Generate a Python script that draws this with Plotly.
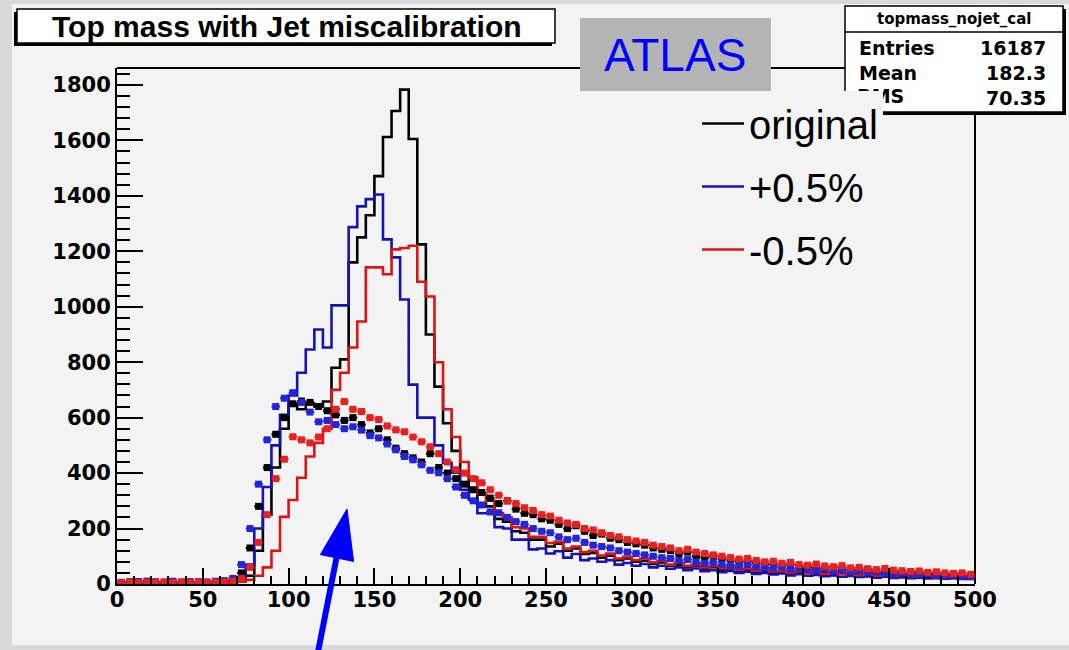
import numpy as np
import plotly.graph_objects as go

# 5 GeV bins from 0 to 500
bin_edges = np.arange(0, 505, 5)
bin_centers = bin_edges[:-1] + 2.5

# step histograms (correct jet combination)
step_original = [2, 3, 2, 4, 3, 2, 5, 3, 4, 3, 2, 5, 6, 8,
                 12, 30, 120, 250, 420, 560, 650, 630, 650, 640,
                 658, 780, 810, 1160, 1250, 1330, 1471, 1612, 1706, 1783,
                 1605, 1225, 900, 712, 580, 480,
                 400, 345, 290, 280, 235, 225, 190, 185, 160, 160,
                 135, 145, 120, 128, 108, 112, 95, 102, 86, 92,
                 80, 84, 72, 78, 66, 70, 60, 66, 55, 61,
                 50, 56, 46, 52, 43, 48, 40, 45, 38, 42,
                 40, 35, 39, 33, 37, 31, 35, 29, 33, 28,
                 31, 27, 30, 25, 29, 24, 27, 22, 26, 21]
step_plus = [3, 2, 4, 2, 3, 5, 2, 4, 3, 5, 4, 6, 8, 10,
             25, 70, 200, 350, 500, 610, 680, 762, 846, 918,
             853, 1005, 1005, 1287, 1362, 1388, 1405, 1243, 1178, 1026,
             719, 600, 600, 500, 437, 401,
             340, 305, 255, 255, 205, 200, 160, 160, 125, 128,
             110, 118, 95, 108, 86, 92, 80, 86, 70, 76,
             66, 72, 60, 66, 55, 60, 50, 56, 46, 50,
             43, 47, 40, 44, 36, 40, 34, 38, 31, 35,
             30, 33, 28, 31, 26, 29, 25, 27, 23, 26,
             22, 24, 21, 23, 20, 21, 19, 21, 18, 19]
step_minus = [2, 3, 2, 2, 4, 3, 2, 3, 4, 2, 3, 4, 5, 5,
              8, 15, 30, 60, 120, 242, 303, 383, 460, 509,
              560, 700, 762, 853, 947, 1142, 1142, 1117, 1207, 1212,
              1220, 1090, 1037, 800, 630, 530,
              440, 385, 325, 300, 255, 240, 205, 200, 170, 170,
              148, 152, 128, 135, 115, 120, 103, 110, 92, 98,
              86, 92, 78, 84, 70, 76, 66, 70, 60, 65,
              56, 60, 52, 56, 48, 52, 45, 48, 42, 46,
              40, 43, 37, 41, 35, 38, 33, 36, 31, 34,
              29, 32, 28, 30, 26, 29, 25, 27, 24, 26]

# point histograms (all combinations)
pts_original = [5, 8, 6, 10, 7, 5, 9, 6, 8, 7, 6, 9, 10, 15,
                40, 130, 280, 420, 540, 600, 650, 660, 655, 640,
                625, 610, 590, 600, 575, 545, 560, 520, 490, 470,
                455, 440, 470, 420, 400, 380, 360, 340, 330, 310,
                290, 300, 270, 255, 250, 235, 230, 215, 200, 210,
                190, 175, 180, 165, 160, 150, 145, 140, 130, 125,
                120, 110, 115, 100, 95, 100, 90, 85, 80, 82,
                75, 70, 72, 65, 70, 60, 62, 58, 55, 60,
                52, 50, 48, 52, 45, 42, 45, 40, 38, 42,
                35, 36, 33, 38, 30, 28]
pts_plus = [6, 5, 9, 7, 8, 6, 10, 7, 9, 8, 7, 10, 12, 20,
            70, 200, 360, 520, 640, 670, 690, 655, 620, 585,
            590, 575, 560, 567, 555, 535, 527, 505, 484, 460,
            448, 430, 410, 401, 380, 350, 320, 300, 285, 260,
            257, 240, 225, 215, 200, 190, 185, 170, 160, 165,
            150, 140, 135, 130, 120, 115, 110, 105, 100, 95,
            92, 85, 88, 80, 75, 78, 70, 68, 65, 70,
            62, 60, 58, 62, 55, 58, 52, 50, 55, 48,
            50, 45, 47, 42, 44, 40, 38, 40, 36, 34,
            37, 32, 30, 33, 28, 26]
pts_minus = [4, 6, 5, 7, 6, 8, 5, 7, 6, 8, 6, 7, 8, 10,
             20, 60, 150, 250, 380, 450, 531, 520, 509, 530,
             560, 630, 658, 630, 622, 600, 593, 570, 556, 549,
             530, 513, 495, 470, 440, 412, 400, 380, 365, 340,
             320, 300, 290, 275, 265, 250, 245, 230, 220, 215,
             200, 195, 185, 175, 170, 160, 155, 150, 140, 135,
             130, 120, 125, 115, 110, 105, 100, 95, 90, 92,
             85, 80, 82, 75, 78, 70, 68, 72, 65, 62,
             66, 58, 60, 55, 52, 56, 50, 48, 45, 47,
             42, 44, 40, 38, 40, 35]

legend_names = ["original", "+0.5%", "-0.5%"]
step_colors = ["#000000", "#1414b4", "#dc1414"]
pt_colors = ["#000000", "#2424d8", "#e82020"]

stats_title = "topmass_nojet_cal"
stats_labels = ["Entries", "Mean", "RMS"]
stats_values = ["16187", "182.3", "70.35"]

W, H = 1069, 650
L, R, T, B = 117, 975, 68, 584
X_MAX, Y_MAX = 500, 1861
CANVAS = "#f3f3f3"
BORDER = "#d9d9d9"


def px(x):
    return (x - L) / (R - L)


def py(y):
    return (B - y) / (B - T)


def rect(x0, y0, x1, y1, fill, line_color=None, line_width=0, layer="below"):
    return dict(type="rect", xref="paper", yref="paper",
                x0=px(x0), x1=px(x1), y0=py(y1), y1=py(y0),
                fillcolor=fill, layer=layer,
                line=dict(color=line_color or fill, width=line_width))


def hline(x0, x1, y, width=2, color="black", layer="below"):
    return dict(type="line", xref="paper", yref="paper",
                x0=px(x0), x1=px(x1), y0=py(y), y1=py(y),
                line=dict(color=color, width=width), layer=layer)


def vline(x, y0, y1, width=2, color="black", layer="below"):
    return dict(type="line", xref="paper", yref="paper",
                x0=px(x), x1=px(x), y0=py(y0), y1=py(y1),
                line=dict(color=color, width=width), layer=layer)


fig = go.Figure()

edges = list(bin_edges)
for name, vals, col in zip(legend_names, [step_original, step_plus, step_minus], step_colors):
    fig.add_trace(go.Scatter(
        x=edges, y=list(vals) + [vals[-1]], mode="lines", line_shape="hv",
        line=dict(color=col, width=2.6), name=name, legendgroup=name,
        hoverinfo="skip"))

for vals, col in zip([pts_original, pts_plus, pts_minus], pt_colors):
    fig.add_trace(go.Scatter(
        x=bin_centers, y=vals, mode="markers",
        marker=dict(symbol="square", size=7, color=col, line=dict(width=0)),
        error_x=dict(type="constant", value=2.5, thickness=2, width=0, color=col),
        showlegend=False, hoverinfo="skip"))

# label of the third stats row sits under the legend box
fig.add_trace(go.Scatter(
    x=[(857 - L) / (R - L) * X_MAX], y=[(B - 98) / (B - T) * Y_MAX],
    mode="text", text=[stats_labels[2]], textposition="middle right",
    textfont=dict(family="DejaVu Sans", size=19, color="black", weight="bold"),
    cliponaxis=False, showlegend=False, hoverinfo="skip"))

shapes = [
    # canvas border
    rect(0, 0, 12, H, BORDER, layer="below"),
    rect(0, 0, W, 4, BORDER, layer="below"),
    rect(0, 645, W, H, BORDER, layer="below"),
    # frame top and right
    hline(L, R, T),
    vline(R, T, B),
    # title pave with shadow
    rect(14, 12, 552, 46, "black"),
    rect(17, 9, 555, 43, "white", "black", 1.5),
    # ATLAS label box
    rect(580, 18, 771, 91, "#b4b4b4"),
    # stats box with shadow
    rect(848, 9, 1066, 115, "black"),
    rect(845, 6, 1063, 112, "white", "black", 1.5),
    hline(845, 1063, 32, width=1.5),
]

# arrow pointing at the broad distribution
tip = (347, 509)
c1 = (320.4, 554.6)
c2 = (353.6, 561.4)
shapes.append(dict(type="line", xref="paper", yref="paper",
                   x0=px(318), y0=py(H + 2), x1=px(339), y1=py(545),
                   line=dict(color="#0000ff", width=6), layer="above"))
shapes.append(dict(type="path", xref="paper", yref="paper", layer="above",
                   path=f"M {px(tip[0])},{py(tip[1])} L {px(c1[0])},{py(c1[1])} "
                        f"L {px(c2[0])},{py(c2[1])} Z",
                   fillcolor="#0000ff", line=dict(color="#0000ff", width=1)))

annotations = [
    dict(text="Top mass with Jet miscalibration", xref="paper", yref="paper",
         x=px(287), y=py(26), xanchor="center", yanchor="middle", showarrow=False,
         font=dict(family="Liberation Sans", size=30, color="black", weight="bold")),
    dict(text="ATLAS", xref="paper", yref="paper",
         x=px(675), y=py(55), xanchor="center", yanchor="middle", showarrow=False,
         font=dict(family="Liberation Sans", size=46, color="#0000ff")),
    dict(text=stats_title, xref="paper", yref="paper",
         x=px(954), y=py(19), xanchor="center", yanchor="middle", showarrow=False,
         font=dict(family="DejaVu Sans", size=15, color="black", weight="bold")),
]
for lab, val, yy in zip(stats_labels[:2], stats_values[:2], [48, 73]):
    annotations.append(dict(text=lab, xref="paper", yref="paper", x=px(857), y=py(yy),
                            xanchor="left", yanchor="middle", showarrow=False,
                            font=dict(family="DejaVu Sans", size=19, color="black",
                                      weight="bold")))
    annotations.append(dict(text=val, xref="paper", yref="paper", x=px(1048), y=py(yy),
                            xanchor="right", yanchor="middle", showarrow=False,
                            font=dict(family="DejaVu Sans", size=19, color="black",
                                      weight="bold")))
annotations.append(dict(text=stats_values[2], xref="paper", yref="paper", x=px(1048),
                        y=py(98), xanchor="right", yanchor="middle", showarrow=False,
                        font=dict(family="DejaVu Sans", size=19, color="black",
                                  weight="bold")))

tick_font = dict(family="DejaVu Sans", size=21, color="black", weight="bold")

fig.update_layout(
    width=W, height=H,
    margin=dict(l=L, r=W - R, t=T, b=H - B, pad=0),
    paper_bgcolor=CANVAS, plot_bgcolor=CANVAS,
    shapes=shapes, annotations=annotations,
    showlegend=True,
    legend=dict(x=px(697), y=py(91), xanchor="left", yanchor="top",
                bgcolor=CANVAS, borderwidth=0, tracegroupgap=8,
                font=dict(family="Liberation Sans", size=40, color="black"),
                itemwidth=42),
    xaxis=dict(range=[0, X_MAX], tickmode="linear", tick0=0, dtick=50,
               ticks="inside", ticklen=16, tickwidth=2, tickcolor="black",
               minor=dict(dtick=10, ticks="inside", ticklen=8, tickwidth=1.5,
                          tickcolor="black"),
               showline=True, linecolor="black", linewidth=2,
               showgrid=False, zeroline=False, tickfont=tick_font,
               ticklabelstandoff=-4),
    yaxis=dict(range=[0, Y_MAX], tickmode="linear", tick0=0, dtick=200,
               ticks="inside", ticklen=26, tickwidth=2, tickcolor="black",
               minor=dict(dtick=40, ticks="inside", ticklen=13, tickwidth=1.5,
                          tickcolor="black"),
               showline=True, linecolor="black", linewidth=2,
               showgrid=False, zeroline=False, tickfont=tick_font,
               ticklabelstandoff=0),
)

fig.write_html("out.html")
